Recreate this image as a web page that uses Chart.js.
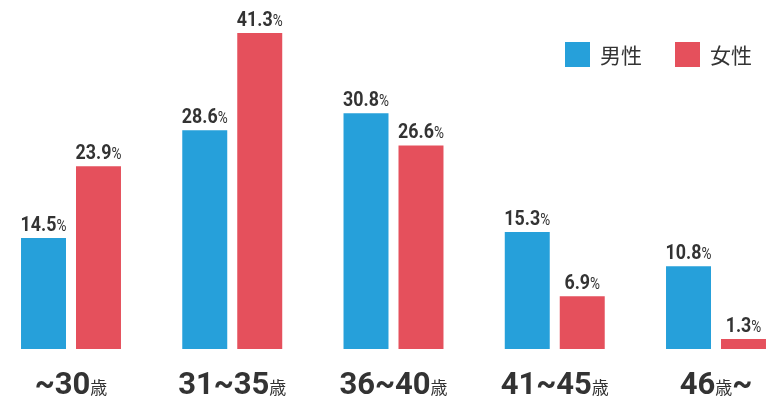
<!DOCTYPE html>
<html>
<head>
<meta charset="utf-8">
<script src="https://cdn.jsdelivr.net/npm/chart.js@4/dist/chart.umd.min.js"></script>
<style>
  body { margin: 0; background: #fff; }
</style>
</head>
<body>
<canvas id="chart" width="778" height="406"></canvas>
<script>
var ageGroups = ['~30歳', '31~35歳', '36~40歳', '41~45歳', '46歳~'];
var seriesNames = ['男性', '女性'];
var menValues = [14.5, 28.6, 30.8, 15.3, 10.8];
var womenValues = [23.9, 41.3, 26.6, 6.9, 1.3];
var seriesColors = ['#26a0da', '#e5505c'];
var textColor = '#333333';

// draws "14.5%" with a narrow bold number and a small percent sign
function drawValue(ctx, value, cx, y) {
  var num = value.toFixed(1);
  var squeeze = 0.85;
  var numFont = 'bold 21px Roboto';
  var pctFont = '16px Roboto';
  ctx.font = numFont;
  var numW = ctx.measureText(num).width * squeeze;
  ctx.font = pctFont;
  var pctW = ctx.measureText('%').width * squeeze;
  var x0 = cx - (numW + pctW) / 2;
  ctx.fillStyle = textColor;
  ctx.textAlign = 'left';
  ctx.textBaseline = 'alphabetic';
  ctx.save();
  ctx.translate(x0, y);
  ctx.scale(squeeze, 1);
  ctx.font = numFont;
  ctx.fillText(num, 0, 0);
  ctx.font = pctFont;
  ctx.fillText('%', numW / squeeze, 0);
  ctx.restore();
}

// age labels: big bold digits, small 歳
function drawAge(ctx, label, cx, y) {
  var bigFont = 'bold 31px Roboto';
  var smallFont = '17px "Noto Sans CJK JP"';
  var parts = [];
  for (var i = 0; i < label.length; i++) {
    var ch = label[i];
    var small = ch === '歳';
    ctx.font = small ? smallFont : bigFont;
    parts.push({ ch: ch, small: small, w: ctx.measureText(ch).width });
  }
  var total = parts.reduce(function(s, p) { return s + p.w; }, 0);
  var x = cx - total / 2;
  ctx.fillStyle = textColor;
  ctx.textAlign = 'left';
  ctx.textBaseline = 'alphabetic';
  parts.forEach(function(p) {
    ctx.font = p.small ? smallFont : bigFont;
    ctx.fillText(p.ch, x, y);
    x += p.w;
  });
}

var labelPlugin = {
  id: 'labelPlugin',
  afterDatasetsDraw: function(chart) {
    var ctx = chart.ctx;
    chart.data.datasets.forEach(function(ds, d) {
      var meta = chart.getDatasetMeta(d);
      meta.data.forEach(function(bar, i) {
        drawValue(ctx, ds.data[i], bar.x, bar.y - 7);
      });
    });

    var xScale = chart.scales.x;
    ageGroups.forEach(function(label, i) {
      drawAge(ctx, label, xScale.getPixelForValue(i), 394);
    });

    // legend, top right
    var legendX = [565, 675];
    seriesNames.forEach(function(name, i) {
      ctx.fillStyle = seriesColors[i];
      ctx.fillRect(legendX[i], 42, 25, 25);
      ctx.fillStyle = textColor;
      ctx.font = '21px "Noto Sans CJK JP"';
      ctx.textAlign = 'left';
      ctx.textBaseline = 'middle';
      ctx.fillText(name, legendX[i] + 35, 55);
    });
  }
};

new Chart(document.getElementById('chart'), {
  type: 'bar',
  data: {
    labels: ageGroups,
    datasets: [
      { label: seriesNames[0], data: menValues, backgroundColor: seriesColors[0] },
      { label: seriesNames[1], data: womenValues, backgroundColor: seriesColors[1] }
    ]
  },
  options: {
    responsive: false,
    animation: false,
    events: [],
    layout: { padding: { left: 71, right: 62, top: 33, bottom: 57 } },
    datasets: {
      bar: { categoryPercentage: 0.682, barPercentage: 0.818, clip: false }
    },
    scales: {
      x: { display: false, offset: false },
      y: { display: false, min: 0, max: 41.3 }
    },
    plugins: {
      legend: { display: false },
      tooltip: { enabled: false }
    }
  },
  plugins: [labelPlugin]
});
</script>
</body>
</html>
